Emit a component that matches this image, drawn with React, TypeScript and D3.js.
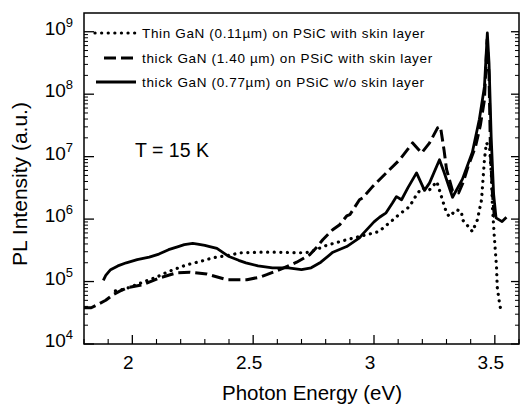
import React from "react";
import * as d3 from "d3";

// photon energy (eV) and log10 of PL intensity
const solidE = [1.88, 1.89, 1.91, 1.94, 1.975, 2.02, 2.07, 2.11, 2.15, 2.19, 2.215, 2.25, 2.27, 2.3, 2.32, 2.35, 2.4, 2.44, 2.47, 2.52, 2.58, 2.645, 2.7, 2.74, 2.78, 2.83, 2.887, 2.94, 2.953, 3.0, 3.023, 3.05, 3.077, 3.093, 3.114, 3.14, 3.176, 3.209, 3.23, 3.271, 3.29, 3.325, 3.366, 3.407, 3.436, 3.457, 3.469, 3.476, 3.485, 3.495, 3.505, 3.53, 3.548];
const solidLog = [5.02, 5.1, 5.19, 5.25, 5.3, 5.35, 5.39, 5.44, 5.51, 5.56, 5.59, 5.61, 5.6, 5.58, 5.56, 5.53, 5.4, 5.34, 5.3, 5.25, 5.22, 5.22, 5.19, 5.22, 5.31, 5.47, 5.56, 5.7, 5.76, 5.955, 6.03, 6.1, 6.26, 6.36, 6.31, 6.5, 6.74, 6.46, 6.58, 6.95, 6.75, 6.35, 6.64, 7.07, 7.6, 8.12, 8.98, 8.5, 7.3, 6.4, 6.02, 5.96, 6.03];

const dashE = [1.8, 1.83, 1.86, 1.89, 1.92, 1.95, 1.978, 2.044, 2.114, 2.184, 2.238, 2.308, 2.39, 2.474, 2.527, 2.556, 2.61, 2.68, 2.734, 2.763, 2.788, 2.829, 2.858, 2.887, 2.9, 2.94, 2.953, 2.994, 3.064, 3.106, 3.16, 3.197, 3.23, 3.263, 3.275, 3.29, 3.3, 3.325, 3.35, 3.37, 3.39, 3.42, 3.44, 3.457, 3.468, 3.476, 3.482, 3.49, 3.498, 3.51];
const dashLog = [4.58, 4.58, 4.64, 4.7, 4.79, 4.85, 4.9, 4.95, 5.06, 5.14, 5.15, 5.12, 5.03, 5.03, 5.07, 5.11, 5.19, 5.31, 5.43, 5.55, 5.67, 5.83, 5.91, 6.05, 6.07, 6.31, 6.34, 6.52, 6.79, 6.95, 7.22, 7.06, 7.22, 7.46, 7.48, 7.1, 6.8, 6.45, 6.42, 6.6, 6.85, 7.16, 7.5, 7.91, 8.87, 8.3, 7.06, 6.42, 6.04, 6.0];

const dotE = [1.93, 1.97, 2.044, 2.1, 2.143, 2.226, 2.28, 2.333, 2.4, 2.445, 2.527, 2.6, 2.693, 2.734, 2.804, 2.887, 2.98, 3.02, 3.064, 3.106, 3.147, 3.168, 3.197, 3.23, 3.26, 3.283, 3.3, 3.312, 3.341, 3.362, 3.366, 3.395, 3.407, 3.428, 3.445, 3.457, 3.465, 3.478, 3.486, 3.49, 3.498, 3.507, 3.51, 3.519, 3.527];
const dotLog = [4.85, 4.88, 4.99, 5.07, 5.15, 5.27, 5.32, 5.38, 5.42, 5.46, 5.47, 5.47, 5.46, 5.47, 5.58, 5.67, 5.76, 5.8, 5.94, 6.08, 6.2, 6.34, 6.5, 6.47, 6.6, 6.31, 6.1, 6.04, 6.15, 6.12, 5.99, 5.86, 5.8, 5.99, 6.31, 6.95, 7.22, 7.16, 6.68, 6.2, 5.71, 5.23, 4.91, 4.66, 4.5];

const xTicks = [2, 2.5, 3, 3.5];
const yDecades = [4, 5, 6, 7, 8, 9];
const legendLabels = [
  "Thin GaN (0.11µm) on PSiC with skin layer",
  "thick GaN (1.40 µm) on PSiC with skin layer",
  "thick GaN (0.77µm) on PSiC w/o skin layer",
];

const font = "Arial, 'Liberation Sans', Helvetica, sans-serif";

export default function App() {
  const left = 84, right = 519, top = 13, bottom = 344;
  const x = d3.scaleLinear().domain([1.8, 3.6]).range([left, right]);
  const y = d3.scaleLog().domain([1e4, Math.pow(10, 9.3)]).range([bottom, top]);

  const line = d3.line<[number, number]>()
    .x(d => x(d[0]))
    .y(d => y(Math.pow(10, d[1])));

  const pts = (e: number[], l: number[]) => e.map((v, i) => [v, l[i]] as [number, number]);

  const minorX = d3.range(18, 37).map(v => v / 10).filter(v => !xTicks.some(t => Math.abs(t - v) < 1e-6));
  const minorY: number[] = [];
  for (let d = 4; d <= 9; d++) for (let k = 2; k <= 9; k++) {
    const v = k * Math.pow(10, d);
    if (v < Math.pow(10, 9.3)) minorY.push(v);
  }

  const styles = [
    { dash: "0.1 6.5", width: 3.2, cap: "round" as const },
    { dash: "12 5", width: 3, cap: "butt" as const },
    { dash: "none", width: 2.8, cap: "butt" as const },
  ];
  const series = [pts(dotE, dotLog), pts(dashE, dashLog), pts(solidE, solidLog)];
  const legendY = [33, 58, 82];
  const legendX = [[95, 136], [104, 134], [96, 136]];

  return (
    <svg width={520} height={407} style={{ position: "absolute", left: 0, top: 0, background: "#fff" }} fontFamily={font}>
      <rect x={0} y={0} width={520} height={407} fill="#fff" />
      {/* frame */}
      <rect x={left} y={top} width={right - left} height={bottom - top} fill="none" stroke="#000" strokeWidth={1.5} />

      {/* x ticks */}
      {xTicks.map(t => (
        <g key={"xt" + t}>
          <line x1={x(t)} x2={x(t)} y1={bottom} y2={bottom - 9} stroke="#000" strokeWidth={1.3} />
          <text x={x(t) - 4} y={369} fontSize={19} textAnchor="middle">{String(t)}</text>
        </g>
      ))}
      {minorX.map(t => (
        <line key={"xm" + t} x1={x(t)} x2={x(t)} y1={bottom} y2={bottom - 5} stroke="#000" strokeWidth={1.1} />
      ))}

      {/* y ticks, left and right */}
      {yDecades.map(d => {
        const v = Math.pow(10, d);
        return (
          <g key={"yt" + d}>
            <line x1={left} x2={left + 10} y1={y(v)} y2={y(v)} stroke="#000" strokeWidth={1.3} />
            <line x1={right} x2={right - 8} y1={y(v)} y2={y(v)} stroke="#000" strokeWidth={1.3} />
            <text x={73} y={y(v) + 3} fontSize={19} textAnchor="end">
              10<tspan fontSize={13} dy={-8}>{d}</tspan>
            </text>
          </g>
        );
      })}
      {minorY.map(v => (
        <g key={"ym" + v}>
          <line x1={left} x2={left + 4} y1={y(v)} y2={y(v)} stroke="#000" strokeWidth={1} />
          <line x1={right} x2={right - 4} y1={y(v)} y2={y(v)} stroke="#000" strokeWidth={1} />
        </g>
      ))}

      {/* curves */}
      {series.map((s, i) => (
        <path key={"s" + i} d={line(s) || ""} fill="none" stroke="#000"
          strokeWidth={styles[i].width} strokeDasharray={styles[i].dash}
          strokeLinecap={styles[i].cap} strokeLinejoin="round" />
      ))}

      {/* legend */}
      {legendLabels.map((lab, i) => (
        <g key={"lg" + i}>
          <line x1={legendX[i][0]} x2={legendX[i][1]} y1={legendY[i]} y2={legendY[i]} stroke="#000"
            strokeWidth={styles[i].width} strokeDasharray={styles[i].dash} strokeLinecap={styles[i].cap} />
          <text x={142} y={legendY[i] + 5} fontSize={13.5} letterSpacing={0.65}>{lab}</text>
        </g>
      ))}

      <text x={135} y={157} fontSize={19.5}>T = 15 K</text>

      {/* axis titles */}
      <text x={312} y={400} fontSize={20.5} textAnchor="middle">Photon Energy (eV)</text>
      <text transform="translate(27,184) rotate(-90)" fontSize={21} textAnchor="middle">PL Intensity (a.u.)</text>
    </svg>
  );
}
